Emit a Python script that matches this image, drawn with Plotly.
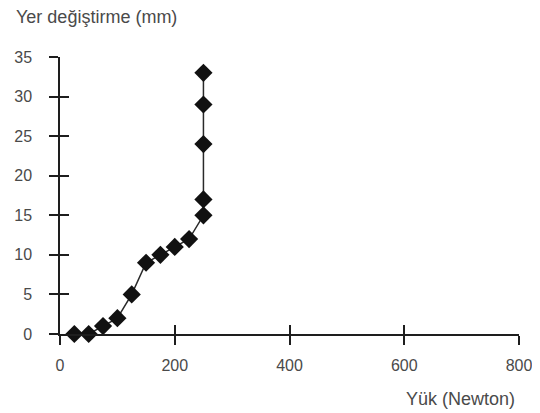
import plotly.graph_objects as go

load_n = [25, 50, 75, 100, 125, 150, 175, 200, 225, 250, 250, 250, 250, 250]
disp_mm = [0, 0, 1, 2, 5, 9, 10, 11, 12, 15, 17, 24, 29, 33]
x_ticks = [0, 200, 400, 600, 800]
y_ticks = [0, 5, 10, 15, 20, 25, 30, 35]

axis_col = "#1e1e1e"
txt_col = "#4a4a4a"
tick_font = dict(family="Liberation Sans, Arial, sans-serif", size=16, color=txt_col)
title_font = dict(family="Liberation Sans, Arial, sans-serif", size=18, color=txt_col)

fig = go.Figure()
fig.add_trace(go.Scatter(
    x=load_n, y=disp_mm, mode="lines+markers",
    line=dict(color="#2a2a2a", width=1.5),
    marker=dict(symbol="diamond", size=14, color="#111111"),
    showlegend=False, cliponaxis=False,
))
fig.add_trace(go.Scatter(x=load_n, y=disp_mm, mode="none", xaxis="x2", yaxis="y2",
                         showlegend=False, hoverinfo="skip"))

common = dict(showgrid=False, zeroline=False, showline=True, linecolor=axis_col,
              linewidth=1.5, tickcolor=axis_col, tickwidth=1.5, ticklen=9,
              automargin=False, tickfont=tick_font)

fig.update_layout(
    width=540, height=413,
    margin=dict(l=52, r=29, t=49, b=87),
    paper_bgcolor="white", plot_bgcolor="white",
    font=tick_font,
    xaxis=dict(range=[0, 800], tickvals=x_ticks, ticks="outside", ticklabelstandoff=7, **common),
    yaxis=dict(range=[0, 35], tickvals=y_ticks, ticks="outside", ticklabelstandoff=14, **common),
    xaxis2=dict(range=[0, 800], tickvals=x_ticks, ticks="inside", overlaying="x",
                showticklabels=False, anchor="y2", **common),
    yaxis2=dict(range=[0, 35], tickvals=y_ticks, ticks="inside", overlaying="y",
                showticklabels=False, anchor="x2", **common),
    annotations=[
        dict(text="Yer değiştirme (mm)", xref="paper", yref="paper", x=-0.1, y=1.146,
             xanchor="left", yanchor="middle", showarrow=False, font=title_font),
        dict(text="Yük (Newton)", xref="paper", yref="paper", x=0.9956, y=-0.235,
             xanchor="right", yanchor="middle", showarrow=False, font=title_font),
    ],
)

fig.write_html("out.html")
